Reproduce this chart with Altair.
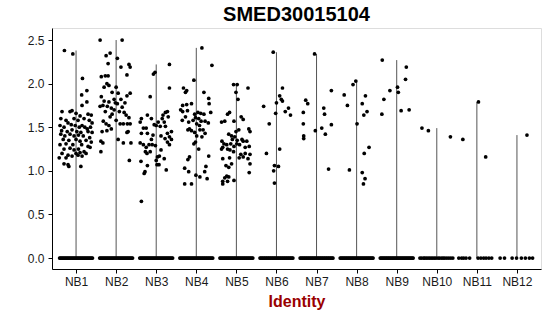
import altair as alt
import pandas as pd

groups = ["NB1", "NB2", "NB3", "NB4", "NB5", "NB6", "NB7", "NB8", "NB9", "NB10", "NB11", "NB12"]

# (jitter offset in category units, expression value) for non-zero cells
nb1_points = [(-0.29, 2.38), (-0.08, 2.34), (0.16, 2.06), (0.27, 1.92), (0.14, 1.87), (0.27, 1.79), (0.15, 1.75),
              (-0.35, 1.68), (-0.15, 1.68), (-0.10, 1.69), (0.00, 1.66), (0.10, 1.63), (0.30, 1.65), (0.38, 1.64),
              (-0.38, 1.60), (-0.25, 1.58), (-0.20, 1.55), (-0.05, 1.60), (0.05, 1.58), (0.20, 1.60), (0.33, 1.58), (0.40, 1.55),
              (-0.40, 1.52), (-0.30, 1.50), (-0.12, 1.53), (-0.02, 1.52), (0.08, 1.50), (0.15, 1.52), (0.22, 1.50), (0.28, 1.48), (0.36, 1.50),
              (-0.36, 1.46), (-0.22, 1.45), (-0.10, 1.47), (0.02, 1.45), (0.12, 1.44), (0.30, 1.45), (0.40, 1.44),
              (-0.38, 1.42), (-0.28, 1.40), (-0.15, 1.42), (-0.05, 1.40), (0.06, 1.41), (0.18, 1.40), (0.34, 1.38),
              (-0.32, 1.36), (-0.18, 1.35), (0.00, 1.36), (0.10, 1.34), (0.25, 1.35), (0.38, 1.33),
              (-0.40, 1.30), (-0.25, 1.31), (-0.08, 1.30), (0.14, 1.30), (0.30, 1.28),
              (-0.30, 1.25), (-0.15, 1.26), (-0.05, 1.24), (0.06, 1.25), (0.20, 1.22), (0.35, 1.27),
              (-0.35, 1.20), (-0.20, 1.18), (0.00, 1.20), (0.10, 1.21), (0.25, 1.20),
              (-0.25, 1.15), (-0.10, 1.17), (0.05, 1.18), (0.15, 1.17),
              (-0.42, 1.15), (-0.30, 1.08), (-0.20, 1.07), (-0.18, 1.05), (0.12, 1.05)]

nb2_points = [(-0.40, 2.50), (0.15, 2.50), (-0.25, 2.32), (-0.15, 2.35), (0.03, 2.29), (-0.20, 2.23), (0.12, 2.19),
              (0.32, 2.22), (0.35, 2.19), (0.27, 2.10), (-0.37, 2.08), (-0.27, 2.09), (-0.20, 2.09), (-0.23, 2.00),
              (-0.18, 1.98), (-0.30, 1.96), (0.00, 1.96), (-0.37, 1.85), (-0.10, 1.90), (0.05, 1.89), (0.35, 1.89),
              (0.27, 1.86), (0.12, 1.82), (-0.18, 1.79), (-0.05, 1.82), (-0.02, 1.78), (0.03, 1.77), (-0.40, 1.74),
              (-0.33, 1.75), (-0.22, 1.74), (-0.12, 1.72), (0.15, 1.73), (-0.27, 1.68), (0.20, 1.67), (-0.10, 1.65),
              (0.25, 1.64), (0.32, 1.61), (-0.32, 1.57), (-0.25, 1.54), (-0.18, 1.52), (0.10, 1.54), (0.18, 1.54),
              (0.28, 1.54), (0.35, 1.54), (-0.35, 1.45), (-0.23, 1.46), (-0.12, 1.48), (0.27, 1.44), (0.30, 1.45),
              (-0.38, 1.34), (-0.33, 1.32), (0.05, 1.36), (0.18, 1.32), (0.37, 1.32), (-0.38, 1.22), (0.33, 1.12),
              (-0.05, 1.70), (0.08, 1.68), (-0.15, 1.62), (0.22, 1.78), (-0.30, 1.80), (0.00, 1.58)]

nb3_points = [(0.33, 2.22), (-0.03, 2.13), (-0.07, 2.11), (0.33, 1.95), (-0.15, 1.85), (0.28, 1.68), (0.23, 1.67),
              (0.17, 1.64), (-0.22, 1.64), (-0.37, 1.60), (-0.40, 1.56), (-0.12, 1.60), (0.15, 1.60), (0.30, 1.62),
              (0.05, 1.56), (0.20, 1.56), (-0.05, 1.53), (0.00, 1.52), (0.10, 1.51), (0.23, 1.51), (-0.32, 1.49),
              (-0.25, 1.49), (-0.37, 1.43), (-0.22, 1.43), (-0.08, 1.41), (0.28, 1.43), (0.33, 1.39), (0.22, 1.37),
              (-0.40, 1.32), (-0.32, 1.30), (-0.18, 1.30), (-0.10, 1.30), (-0.02, 1.29), (0.28, 1.33), (0.33, 1.30),
              (-0.25, 1.27), (-0.27, 1.22), (-0.23, 1.20), (-0.15, 1.22), (0.12, 1.24), (0.08, 1.17), (0.00, 1.12),
              (0.20, 1.14), (0.03, 1.16), (-0.38, 1.11), (-0.22, 1.06), (0.02, 1.07), (0.07, 1.07), (-0.28, 0.99),
              (-0.30, 0.97), (0.25, 1.01), (-0.37, 0.65), (0.38, 1.45), (0.38, 1.36), (0.12, 1.40), (-0.12, 1.36)]

nb4_points = [(0.14, 2.41), (0.39, 2.21), (-0.06, 2.04), (-0.32, 1.95), (-0.24, 1.92), (-0.27, 1.90), (0.19, 1.90),
              (0.31, 1.83), (0.32, 1.77), (-0.34, 1.75), (-0.24, 1.76), (-0.12, 1.77), (-0.39, 1.70), (-0.34, 1.68),
              (-0.22, 1.69), (0.36, 1.67), (-0.04, 1.65), (0.04, 1.67), (0.11, 1.66), (0.19, 1.65), (-0.27, 1.62),
              (-0.02, 1.61), (0.06, 1.60), (0.22, 1.57), (0.12, 1.57), (-0.19, 1.56), (0.01, 1.54), (-0.17, 1.48),
              (-0.21, 1.47), (-0.12, 1.46), (0.09, 1.47), (0.17, 1.47), (-0.04, 1.44), (0.22, 1.43), (0.14, 1.39),
              (0.01, 1.40), (-0.02, 1.33), (-0.06, 1.31), (0.06, 1.25), (-0.17, 1.16), (-0.21, 1.13), (0.31, 1.17),
              (0.24, 1.05), (-0.29, 1.03), (-0.19, 0.99), (0.21, 0.99), (-0.01, 0.95), (0.09, 0.93), (0.27, 0.91),
              (-0.29, 0.85), (-0.12, 0.85), (0.30, 1.55), (-0.35, 1.58), (0.08, 1.52), (-0.08, 1.58)]

nb5_points = [(-0.07, 1.99), (0.02, 1.99), (0.29, 1.95), (-0.01, 1.90), (0.04, 1.82), (-0.17, 1.67), (-0.22, 1.65),
              (0.12, 1.62), (0.17, 1.59), (-0.06, 1.57), (-0.37, 1.56), (-0.29, 1.57), (-0.01, 1.45), (0.06, 1.47),
              (0.31, 1.48), (0.34, 1.45), (-0.19, 1.42), (-0.12, 1.40), (-0.04, 1.39), (0.02, 1.35), (0.14, 1.36),
              (0.17, 1.34), (0.26, 1.34), (-0.36, 1.34), (-0.31, 1.31), (-0.24, 1.30), (-0.14, 1.31), (-0.06, 1.28),
              (0.01, 1.31), (-0.22, 1.25), (-0.34, 1.27), (-0.37, 1.25), (-0.16, 1.24), (-0.07, 1.22), (0.11, 1.19),
              (0.22, 1.20), (0.32, 1.28), (0.34, 1.19), (0.07, 1.15), (0.17, 1.16), (0.29, 1.14), (-0.34, 1.14),
              (-0.17, 1.15), (-0.12, 1.08), (0.34, 1.08), (-0.26, 1.06), (-0.19, 1.04), (0.32, 0.98), (-0.24, 0.94),
              (-0.29, 0.92), (-0.19, 0.93), (-0.34, 0.88), (-0.22, 0.88), (-0.34, 0.85), (-0.06, 0.89),
              (0.08, 1.30), (0.22, 1.27), (-0.10, 1.36)]

nb6_points = [(-0.08, 2.36), (0.15, 1.95), (0.08, 1.86), (0.12, 1.82), (0.15, 1.80), (-0.32, 1.74), (0.00, 1.78),
              (0.30, 1.72), (0.22, 1.68), (0.35, 1.64), (-0.02, 1.66), (-0.18, 1.54), (-0.25, 1.20), (0.08, 1.25),
              (-0.05, 1.06), (0.05, 1.05), (-0.07, 1.00), (-0.05, 0.86)]

nb7_points = [(-0.05, 2.34), (-0.27, 1.81), (-0.22, 1.77), (-0.33, 1.67), (0.18, 1.72), (0.20, 1.65), (0.37, 1.92),
              (0.37, 1.53), (-0.33, 1.54), (0.13, 1.49), (-0.03, 1.46), (-0.32, 1.40), (-0.32, 1.37), (0.22, 1.42),
              (0.30, 1.02)]

nb8_points = [(-0.31, 1.87), (-0.09, 1.99), (-0.02, 2.03), (-0.23, 1.75), (0.22, 1.86), (0.14, 1.77), (0.18, 1.64),
              (0.26, 1.68), (0.01, 1.54), (0.31, 1.27), (0.19, 1.20), (-0.18, 1.01), (0.14, 0.98), (0.21, 0.91),
              (0.17, 0.85)]

nb9_points = [(-0.36, 2.27), (0.24, 2.19), (0.22, 2.05), (0.02, 1.96), (0.04, 1.90), (-0.17, 1.92), (-0.32, 1.82),
              (-0.37, 1.65), (0.11, 1.69), (0.31, 1.70)]

nb10_points = [(-0.37, 1.49), (-0.21, 1.46), (0.34, 1.39)]
nb11_points = [(-0.35, 1.36), (0.22, 1.16), (0.04, 1.79)]
nb12_points = [(0.25, 1.41)]

# jitter offsets of the zero-valued cells
zero_jit_dense = [-0.41, -0.39, -0.36, -0.34, -0.31, -0.29, -0.26, -0.24, -0.21, -0.19, -0.16, -0.14,
                  -0.11, -0.09, -0.06, -0.04, -0.01, 0.01, 0.04, 0.06, 0.09, 0.11, 0.14, 0.16,
                  0.19, 0.21, 0.24, 0.26, 0.29, 0.31, 0.34, 0.36, 0.39, 0.41]
zero_jit_nb10 = [-0.42, -0.38, -0.33, -0.30, -0.26, -0.22, -0.18, -0.14, -0.10, -0.06, -0.02,
                 0.03, 0.07, 0.12, 0.16, 0.20, 0.25, 0.30, 0.35, 0.40]
zero_jit_nb11 = [-0.45, -0.38, -0.33, -0.27, -0.18, 0.03, 0.10, 0.17, 0.23, 0.30, 0.37]
zero_jit_nb12 = [-0.42, -0.31, -0.12, -0.01, 0.11, 0.21, 0.31, 0.39]

nonzero = [nb1_points, nb2_points, nb3_points, nb4_points, nb5_points, nb6_points,
           nb7_points, nb8_points, nb9_points, nb10_points, nb11_points, nb12_points]
zeros = [zero_jit_dense] * 9 + [zero_jit_nb10, zero_jit_nb11, zero_jit_nb12]

rows = []
for i, (g, pts, zj) in enumerate(zip(groups, nonzero, zeros)):
    for j in zj:
        rows.append({"group": g, "idx": i + 1, "jit": j, "value": 0.0})
    for j, v in pts:
        rows.append({"group": g, "idx": i + 1, "jit": j, "value": v})
df = pd.DataFrame(rows)

FONT = "Liberation Sans"

xscale = alt.Scale(domain=[0.4, 12.6], nice=False, zero=False)
yscale = alt.Scale(domain=[-0.1255, 2.638], nice=False, zero=False)

xaxis = alt.Axis(values=list(range(1, 13)), labelExpr="'NB' + datum.value", title="Identity",
                 grid=False, tickSize=4, labelPadding=3, labelFontSize=12, labelFont=FONT,
                 labelColor="#1a1a1a", domainColor="black", tickColor="black",
                 titleFont=FONT, titleFontSize=16, titleFontWeight="bold", titleColor="#990000",
                 titlePadding=6)
yaxis = alt.Axis(values=[0, 0.5, 1.0, 1.5, 2.0, 2.5], format=".1f", title=None, grid=False,
                 tickSize=4, labelPadding=4, labelFontSize=12, labelFont=FONT, labelColor="#1a1a1a",
                 domainColor="black", tickColor="black")

base = alt.Chart(df)

violin = base.transform_aggregate(
    maxv="max(value)", groupby=["idx"]
).mark_rule(color="#555555", strokeWidth=1).encode(
    x=alt.X("idx:Q", scale=xscale, axis=xaxis),
    y=alt.Y("maxv:Q", scale=yscale, axis=yaxis),
    y2=alt.datum(0),
)

points = base.transform_calculate(
    xpos="datum.idx + datum.jit"
).mark_circle(color="black", opacity=1, size=14).encode(
    x=alt.X("xpos:Q", scale=xscale, axis=xaxis),
    y=alt.Y("value:Q", scale=yscale, axis=yaxis),
)

chart = alt.layer(violin, points).properties(
    width=489, height=241,
    autosize=alt.AutoSizeParams(type="none"),
    padding={"left": 52, "top": 28, "right": 9, "bottom": 47},
    title=alt.TitleParams("SMED30015104", font=FONT, fontSize=20, fontWeight="bold",
                          color="black", anchor="middle", frame="group", offset=3),
).configure_view(stroke=None).configure(background="white")

chart.save("out.html", embed_options={"renderer": "svg", "actions": False})
